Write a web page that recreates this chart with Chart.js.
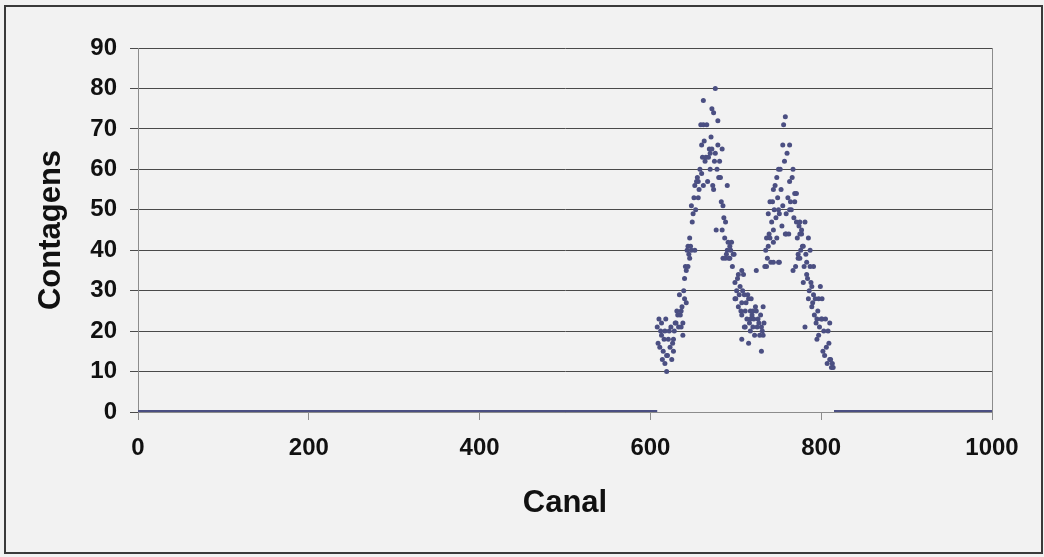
<!DOCTYPE html>
<html>
<head>
<meta charset="utf-8">
<script src="https://cdn.jsdelivr.net/npm/chart.js@4.4.0/dist/chart.umd.min.js"></script>
<style>
    html, body { margin: 0; padding: 0; background: #f2f2f2; }
    #wrap { position: relative; width: 1044px; height: 557px; }
    #frame {
        position: absolute; left: 4px; top: 5px; width: 1039px; height: 549px;
        box-sizing: border-box; border: 2px solid #3a3a3a; pointer-events: none;
    }
    canvas { position: absolute; left: 0; top: 0; }
</style>
</head>
<body>
<div id="wrap">
    <canvas id="spectrumChart" width="1044" height="557"></canvas>
    <div id="frame"></div>
</div>
<script>
// channels where the counts are zero (drawn as a solid run along the axis)
const zeroRunStarts = [0, 815];
const zeroRunEnds = [608, 1000];

// channels and counts of the two peaks
const peakChannels = [
    608, 609, 610, 611, 612, 613, 613, 614, 615, 616, 617, 617, 618, 619, 619, 620,
    621, 622, 623, 624, 625, 626, 627, 627, 628, 629, 630, 631, 632, 633, 634, 635,
    636, 636, 637, 638, 638, 639, 640, 640, 641, 642, 642, 643, 644, 644, 645, 646,
    646, 647, 648, 648, 649, 650, 651, 652, 652, 653, 654, 655, 656, 656, 657, 658,
    659, 660, 660, 661, 662, 662, 662, 663, 664, 665, 666, 667, 668, 669, 670, 670,
    671, 672, 672, 673, 674, 674, 675, 676, 676, 677, 678, 679, 679, 680, 681, 682,
    683, 684, 684, 685, 685, 686, 687, 688, 688, 689, 690, 690, 691, 692, 693, 693,
    694, 695, 696, 697, 698, 699, 699, 700, 701, 702, 703, 703, 704, 705, 706, 707,
    707, 707, 707, 708, 709, 710, 710, 711, 711, 712, 713, 714, 715, 715, 716, 717,
    717, 717, 718, 719, 720, 720, 721, 722, 723, 724, 724, 725, 726, 727, 728, 729,
    730, 730, 731, 732, 732, 733, 734, 735, 736, 736, 737, 738, 738, 739, 740, 740,
    741, 742, 743, 744, 744, 744, 744, 745, 746, 747, 748, 748, 749, 750, 750, 750,
    751, 751, 752, 753, 754, 755, 755, 756, 757, 758, 758, 759, 759, 760, 761, 762,
    763, 763, 763, 764, 765, 766, 767, 767, 768, 769, 769, 770, 771, 771, 772, 773,
    773, 774, 775, 775, 775, 776, 777, 777, 778, 779, 779, 780, 781, 781, 782, 783,
    783, 784, 785, 785, 786, 787, 787, 788, 789, 789, 790, 791, 791, 792, 793, 794,
    795, 795, 796, 797, 797, 798, 799, 800, 801, 801, 802, 803, 804, 805, 806, 807,
    808, 809, 810, 810, 811, 812, 813, 814
];
const peakCounts = [
    21, 17, 23, 16, 20, 22, 19, 13, 15, 18, 20, 12, 23, 10, 14, 14,
    18, 20, 16, 21, 13, 17, 18, 15, 20, 22, 22, 25, 24, 21, 29, 24,
    25, 21, 26, 22, 19, 30, 33, 28, 36, 35, 27, 40, 41, 36, 39, 43,
    38, 41, 40, 51, 47, 49, 53, 56, 40, 50, 57, 58, 57, 53, 55, 60,
    71, 59, 66, 63, 77, 71, 56, 67, 62, 63, 71, 57, 63, 65, 64, 60,
    68, 75, 65, 56, 74, 55, 62, 80, 64, 45, 60, 72, 66, 58, 62, 58,
    52, 65, 45, 51, 38, 48, 43, 47, 38, 39, 56, 40, 42, 38, 41, 38,
    40, 42, 36, 39, 39, 32, 28, 28, 30, 33, 34, 26, 29, 31, 25, 35,
    27, 24, 18, 30, 34, 29, 21, 25, 21, 27, 23, 29, 28, 17, 22, 25,
    23, 20, 28, 24, 25, 21, 23, 19, 26, 35, 25, 21, 23, 22, 19, 24,
    21, 15, 20, 26, 19, 22, 36, 40, 36, 43, 38, 41, 49, 44, 52, 43,
    37, 47, 52, 55, 45, 42, 37, 50, 56, 48, 43, 58, 53, 60, 50, 37,
    49, 37, 60, 55, 46, 66, 51, 71, 62, 73, 44, 49, 44, 64, 53, 44,
    66, 57, 50, 52, 50, 58, 60, 35, 48, 54, 52, 36, 47, 54, 43, 39,
    38, 46, 47, 44, 38, 40, 44, 45, 41, 41, 32, 36, 47, 21, 39, 34,
    37, 33, 43, 28, 30, 40, 36, 32, 31, 26, 27, 36, 29, 24, 28, 22,
    23, 18, 25, 28, 19, 21, 31, 23, 23, 28, 15, 20, 14, 23, 16, 12,
    20, 17, 22, 13, 13, 11, 12, 11
];

const xTickValues = [0, 200, 400, 600, 800, 1000];
const yTickValues = [0, 10, 20, 30, 40, 50, 60, 70, 80, 90];

const markColor = '#4b4f82';
const tickFont = { family: '"Liberation Sans", Arial, sans-serif', size: 24, weight: 'bold' };
const titleFont = { family: '"Liberation Sans", Arial, sans-serif', size: 31, weight: 'bold' };

const zeroDatasets = zeroRunStarts.map((start, i) => ({
    type: 'line',
    data: [{ x: start, y: 0 }, { x: zeroRunEnds[i], y: 0 }],
    borderColor: markColor,
    borderWidth: 4,
    pointRadius: 0,
    fill: false
}));

const peakPoints = peakChannels.map((ch, i) => ({ x: ch, y: peakCounts[i] }));

// draws the grey frame line on the right of the plot area
const plotFrame = {
    id: 'plotFrame',
    afterDraw(chart) {
        const { ctx, chartArea } = chart;
        ctx.save();
        ctx.strokeStyle = '#8c8c8c';
        ctx.lineWidth = 1;
        ctx.beginPath();
        ctx.moveTo(chartArea.right + 0.5, chartArea.top);
        ctx.lineTo(chartArea.right + 0.5, chartArea.bottom);
        ctx.stroke();
        ctx.restore();
    }
};

const ctx = document.getElementById('spectrumChart').getContext('2d');

new Chart(ctx, {
    type: 'scatter',
    data: {
        datasets: [
            ...zeroDatasets,
            {
                data: peakPoints,
                backgroundColor: markColor,
                borderWidth: 0,
                pointRadius: 2.5
            }
        ]
    },
    options: {
        responsive: false,
        animation: false,
        layout: {
            padding: { top: 48, right: 52, left: 0, bottom: 0 }
        },
        plugins: {
            legend: { display: false },
            tooltip: { enabled: false }
        },
        scales: {
            x: {
                type: 'linear',
                min: 0,
                max: 1000,
                afterBuildTicks: (scale) => {
                    scale.ticks = xTickValues.map(v => ({ value: v }));
                },
                afterFit: (scale) => {
                    scale.height = 145;
                },
                grid: {
                    drawOnChartArea: false,
                    color: '#8c8c8c',
                    tickLength: 8
                },
                border: { color: '#8c8c8c', width: 1 },
                ticks: {
                    color: '#111',
                    font: tickFont,
                    padding: 14,
                    maxRotation: 0,
                    callback: (value) => String(value)
                },
                title: {
                    display: true,
                    text: 'Canal',
                    color: '#111',
                    font: titleFont,
                    padding: { top: 0, bottom: 35 }
                }
            },
            y: {
                type: 'linear',
                min: 0,
                max: 90,
                afterBuildTicks: (scale) => {
                    scale.ticks = yTickValues.map(v => ({ value: v }));
                },
                afterFit: (scale) => {
                    scale.width = 138;
                },
                grid: {
                    color: '#4a4a4a',
                    lineWidth: 1,
                    tickLength: 8
                },
                border: { color: '#8c8c8c', width: 1 },
                ticks: {
                    color: '#111',
                    font: tickFont,
                    padding: 13,
                    callback: (value) => String(value)
                },
                title: {
                    display: true,
                    text: 'Contagens',
                    color: '#111',
                    font: titleFont,
                    padding: { top: 33, bottom: 0 }
                }
            }
        }
    },
    plugins: [plotFrame]
});
</script>
</body>
</html>
